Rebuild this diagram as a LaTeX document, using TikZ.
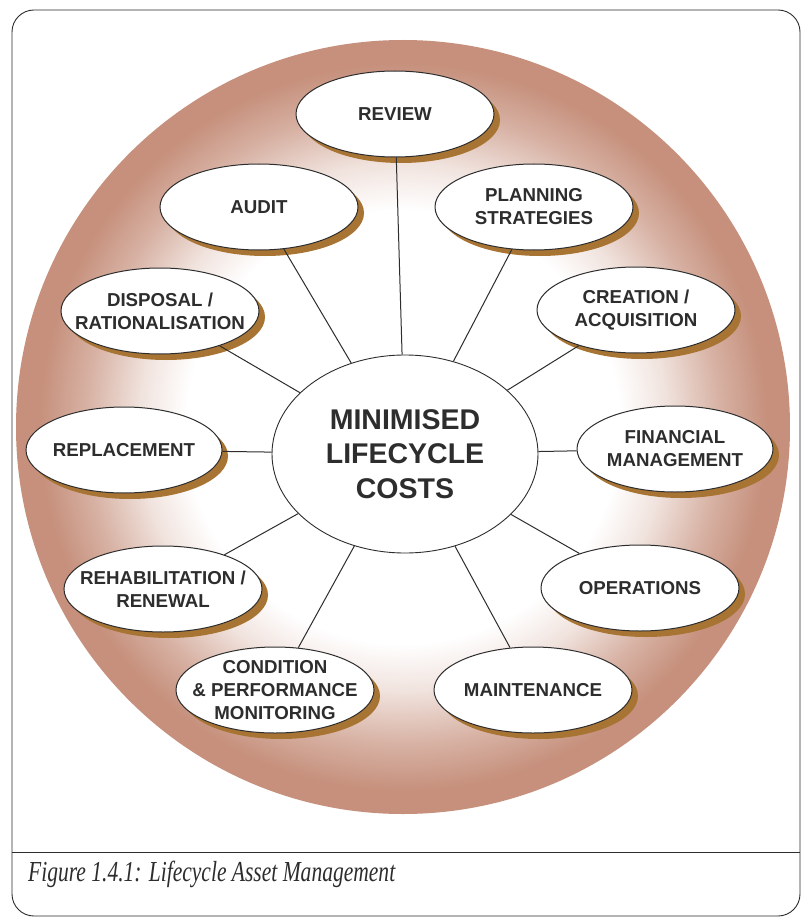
\documentclass[tikz,border=0pt]{standalone}
\usepackage{fontspec}
\usepackage{graphicx}
\setsansfont{Liberation Sans}
\setmainfont{Liberation Serif}
\usetikzlibrary{shapes.geometric,shadows}
\definecolor{ringcol}{RGB}{198,144,124}
\definecolor{shadcol}{RGB}{168,116,52}
\definecolor{inkcol}{RGB}{45,45,45}
\pgfdeclareradialshading{discshade}{\pgfpointorigin}{%
  color(0bp)=(white); color(14bp)=(white); color(17bp)=(ringcol!25!white);
  color(20.5bp)=(ringcol!70!white); color(23.5bp)=(ringcol); color(25bp)=(ringcol); color(50bp)=(ringcol)}
\tikzset{
  lbl/.style={ellipse, draw=inkcol, line width=1pt, fill=white,
    inner xsep=-40pt, inner ysep=-10pt,
    minimum width=198pt, minimum height=86pt, align=center,
    font=\sffamily\bfseries\fontsize{18.7}{23}\selectfont, text=inkcol,
    drop shadow={shadow xshift=6pt, shadow yshift=-6pt, fill=shadcol, opacity=1}},
  hub/.style={ellipse, draw=inkcol, line width=0.9pt, fill=white, inner sep=0pt,
    minimum width=266pt, minimum height=198pt, align=center,
    font=\sffamily\bfseries\fontsize{28.5}{34.5}\selectfont, text=inkcol},
  spoke/.style={draw=inkcol, line width=1pt},
  frame/.style={draw=inkcol, line width=0.9pt, rounded corners=22pt},
}
\begin{document}
\begin{tikzpicture}[x=1pt,y=-1pt]
\useasboundingbox (0,0) rectangle (801,920);
\clip (0,0) rectangle (801,920);
\fill[white] (0,0) rectangle (801,920);
\draw[frame] (12,10) rectangle (800,916);
\draw[inkcol, line width=0.9pt] (12,852) -- (800,852);
\shade[shading=discshade] (403,427) circle[radius=387];

\node[hub] (hub) at (405,454) {MINIMISED\\LIFECYCLE\\COSTS};

\node[lbl] (review) at (395,114) {REVIEW};
\node[lbl] (audit) at (259,207) {AUDIT};
\node[lbl] (plan) at (534,207) {PLANNING\\STRATEGIES};
\node[lbl] (disp) at (160,311) {DISPOSAL /\\RATIONALISATION};
\node[lbl] (crea) at (636,310) {CREATION /\\ACQUISITION};
\node[lbl, minimum width=196pt] (repl) at (124,450) {REPLACEMENT};
\node[lbl, minimum width=196pt] (fin) at (675,449) {FINANCIAL\\MANAGEMENT};
\node[lbl] (rehab) at (163,589) {REHABILITATION /\\RENEWAL};
\node[lbl] (oper) at (640,588) {OPERATIONS};
\node[lbl] (cond) at (275,690) {CONDITION\\\&~PERFORMANCE\\MONITORING};
\node[lbl] (maint) at (533,690) {MAINTENANCE};

\foreach \n in {review,audit,plan,disp,crea,repl,fin,rehab,oper,cond,maint}
  \draw[spoke] (hub) -- (\n);

\node[anchor=base west, inner sep=0pt, text=inkcol,
  font=\rmfamily\itshape\fontsize{29}{30}\selectfont] (cap) at (28,881)
  {\resizebox{367pt}{\height}{Figure 1.4.1: Lifecycle Asset Management}};
\end{tikzpicture}
\end{document}
